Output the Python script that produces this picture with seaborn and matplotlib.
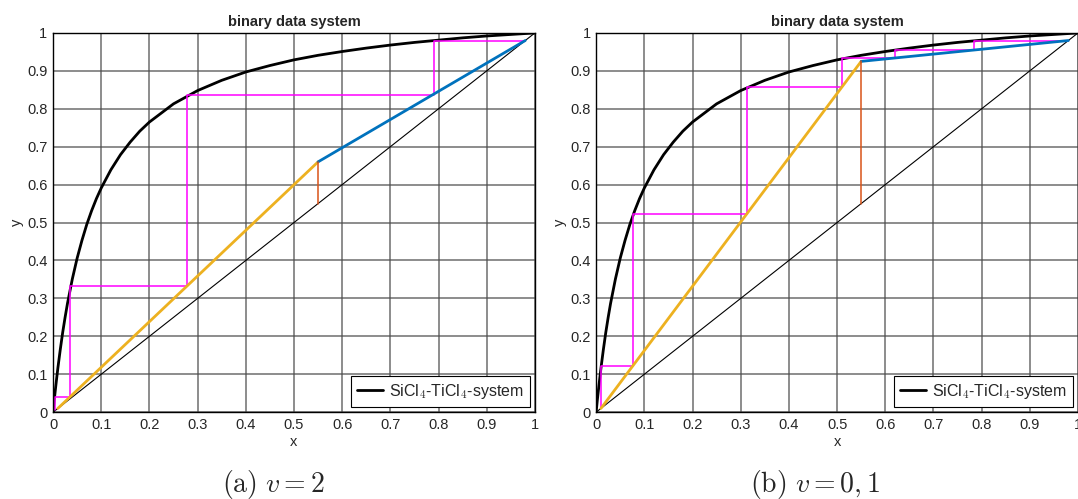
import numpy as np
import pandas as pd
import matplotlib
matplotlib.use("Agg")
import matplotlib.pyplot as plt
import seaborn as sns

sns.set_style("white")
plt.rcParams['font.family'] = ['Liberation Sans', 'DejaVu Sans']
plt.rcParams['mathtext.fontset'] = 'cm'

# Equilibrium curve
eq_x = [0.0, 0.0025, 0.005, 0.0075, 0.01, 0.015, 0.02, 0.025, 0.03, 0.04, 0.05, 0.06,
        0.07, 0.08, 0.09, 0.1, 0.12, 0.14, 0.16, 0.18, 0.2, 0.25, 0.3, 0.35, 0.4, 0.45,
        0.5, 0.55, 0.6, 0.65, 0.7, 0.75, 0.8, 0.85, 0.9, 0.95, 1.0]
eq_y = [0.0, 0.032, 0.061, 0.089, 0.116, 0.165, 0.210, 0.250, 0.287, 0.351, 0.406, 0.453,
        0.495, 0.531, 0.563, 0.591, 0.639, 0.679, 0.712, 0.741, 0.765, 0.813, 0.848, 0.875,
        0.897, 0.914, 0.929, 0.941, 0.951, 0.960, 0.968, 0.975, 0.981, 0.987, 0.992, 0.996, 1.0]

diag = [0.0, 1.0]

# Panel (a): v = 2
a_q_x = [0.55, 0.55]
a_q_y = [0.55, 0.66]
a_rect_x = [0.55, 0.98]
a_rect_y = [0.66, 0.98]
a_strip_x = [0.01, 0.55]
a_strip_y = [0.01, 0.66]
a_step_x = [0.98, 0.79, 0.79, 0.278, 0.278, 0.036, 0.036, 0.004, 0.004]
a_step_y = [0.98, 0.98, 0.836, 0.836, 0.332, 0.332, 0.041, 0.041, 0.005]

# Panel (b): v = 0,1
b_q_x = [0.55, 0.55]
b_q_y = [0.55, 0.925]
b_rect_x = [0.55, 0.98]
b_rect_y = [0.925, 0.98]
b_strip_x = [0.01, 0.55]
b_strip_y = [0.01, 0.925]
b_step_x = [0.98, 0.785, 0.785, 0.62, 0.62, 0.51, 0.51, 0.313, 0.313, 0.077, 0.077, 0.011, 0.011]
b_step_y = [0.98, 0.98, 0.956, 0.956, 0.934, 0.934, 0.857, 0.857, 0.522, 0.522, 0.121, 0.121, 0.01]

ticks = [0, 0.1, 0.2, 0.3, 0.4, 0.5, 0.6, 0.7, 0.8, 0.9, 1]
tick_labels = ['0', '0.1', '0.2', '0.3', '0.4', '0.5', '0.6', '0.7', '0.8', '0.9', '1']

panels = [
    dict(pos=[0.0492, 0.174, 0.447, 0.760], q=(a_q_x, a_q_y), rect=(a_rect_x, a_rect_y),
         strip=(a_strip_x, a_strip_y), step=(a_step_x, a_step_y),
         caption=r'$\mathrm{(a)}\ v = 2$', cx=0.254),
    dict(pos=[0.553, 0.174, 0.447, 0.760], q=(b_q_x, b_q_y), rect=(b_rect_x, b_rect_y),
         strip=(b_strip_x, b_strip_y), step=(b_step_x, b_step_y),
         caption=r'$\mathrm{(b)}\ v = 0,1$', cx=0.756),
]

fig = plt.figure(figsize=(10.78, 4.99), dpi=100)

MAGENTA = '#FF00FF'
BLUE = '#0072BD'
YELLOW = '#EDB120'
ORANGE = '#D95319'

for p in panels:
    ax = fig.add_axes(p['pos'])
    sns.lineplot(x=eq_x, y=eq_y, ax=ax, color='black', lw=2.0, sort=False,
                 estimator=None, label=r'SiCl$_{\mathsf{4}}$-TiCl$_{\mathsf{4}}$-system')
    sns.lineplot(x=diag, y=diag, ax=ax, color='black', lw=0.8, sort=False, estimator=None)
    sns.lineplot(x=p['step'][0], y=p['step'][1], ax=ax, color=MAGENTA, lw=1.1,
                 sort=False, estimator=None)
    sns.lineplot(x=p['strip'][0], y=p['strip'][1], ax=ax, color=YELLOW, lw=2.0,
                 sort=False, estimator=None)
    sns.lineplot(x=p['rect'][0], y=p['rect'][1], ax=ax, color=BLUE, lw=2.0,
                 sort=False, estimator=None)
    sns.lineplot(x=p['q'][0], y=p['q'][1], ax=ax, color=ORANGE, lw=1.1,
                 sort=False, estimator=None)

    ax.set_xlim(0, 1)
    ax.set_ylim(0, 1)
    ax.set_xticks(ticks)
    ax.set_xticklabels(tick_labels)
    ax.set_yticks(ticks)
    ax.set_yticklabels(tick_labels)
    ax.grid(True, color='#4d4d4d', lw=1.2, alpha=0.75)
    ax.set_axisbelow(True)
    ax.tick_params(direction='in', length=4, width=0.8, labelsize=10.5,
                   colors='black', labelcolor='#262626', pad=4)
    for s in ax.spines.values():
        s.set_visible(True)
        s.set_color('black')
        s.set_linewidth(1.0)
    ax.set_xlabel('x', fontsize=10.5, color='#262626', labelpad=2)
    ax.set_ylabel('y', fontsize=10.5, color='#262626', labelpad=2)
    ax.set_title('binary data system', fontsize=10.5, fontweight='bold', pad=5)
    leg = ax.legend(loc='lower right', fontsize=11.5, frameon=True, fancybox=False,
                    borderaxespad=0.3, handlelength=1.6, handletextpad=0.4,
                    borderpad=0.4)
    leg.get_frame().set_edgecolor('black')
    leg.get_frame().set_linewidth(0.8)
    leg.get_frame().set_alpha(1.0)
    fig.text(p['cx'], 0.03, p['caption'], ha='center', va='center', fontsize=20)

fig.savefig('out.png', dpi=100)
